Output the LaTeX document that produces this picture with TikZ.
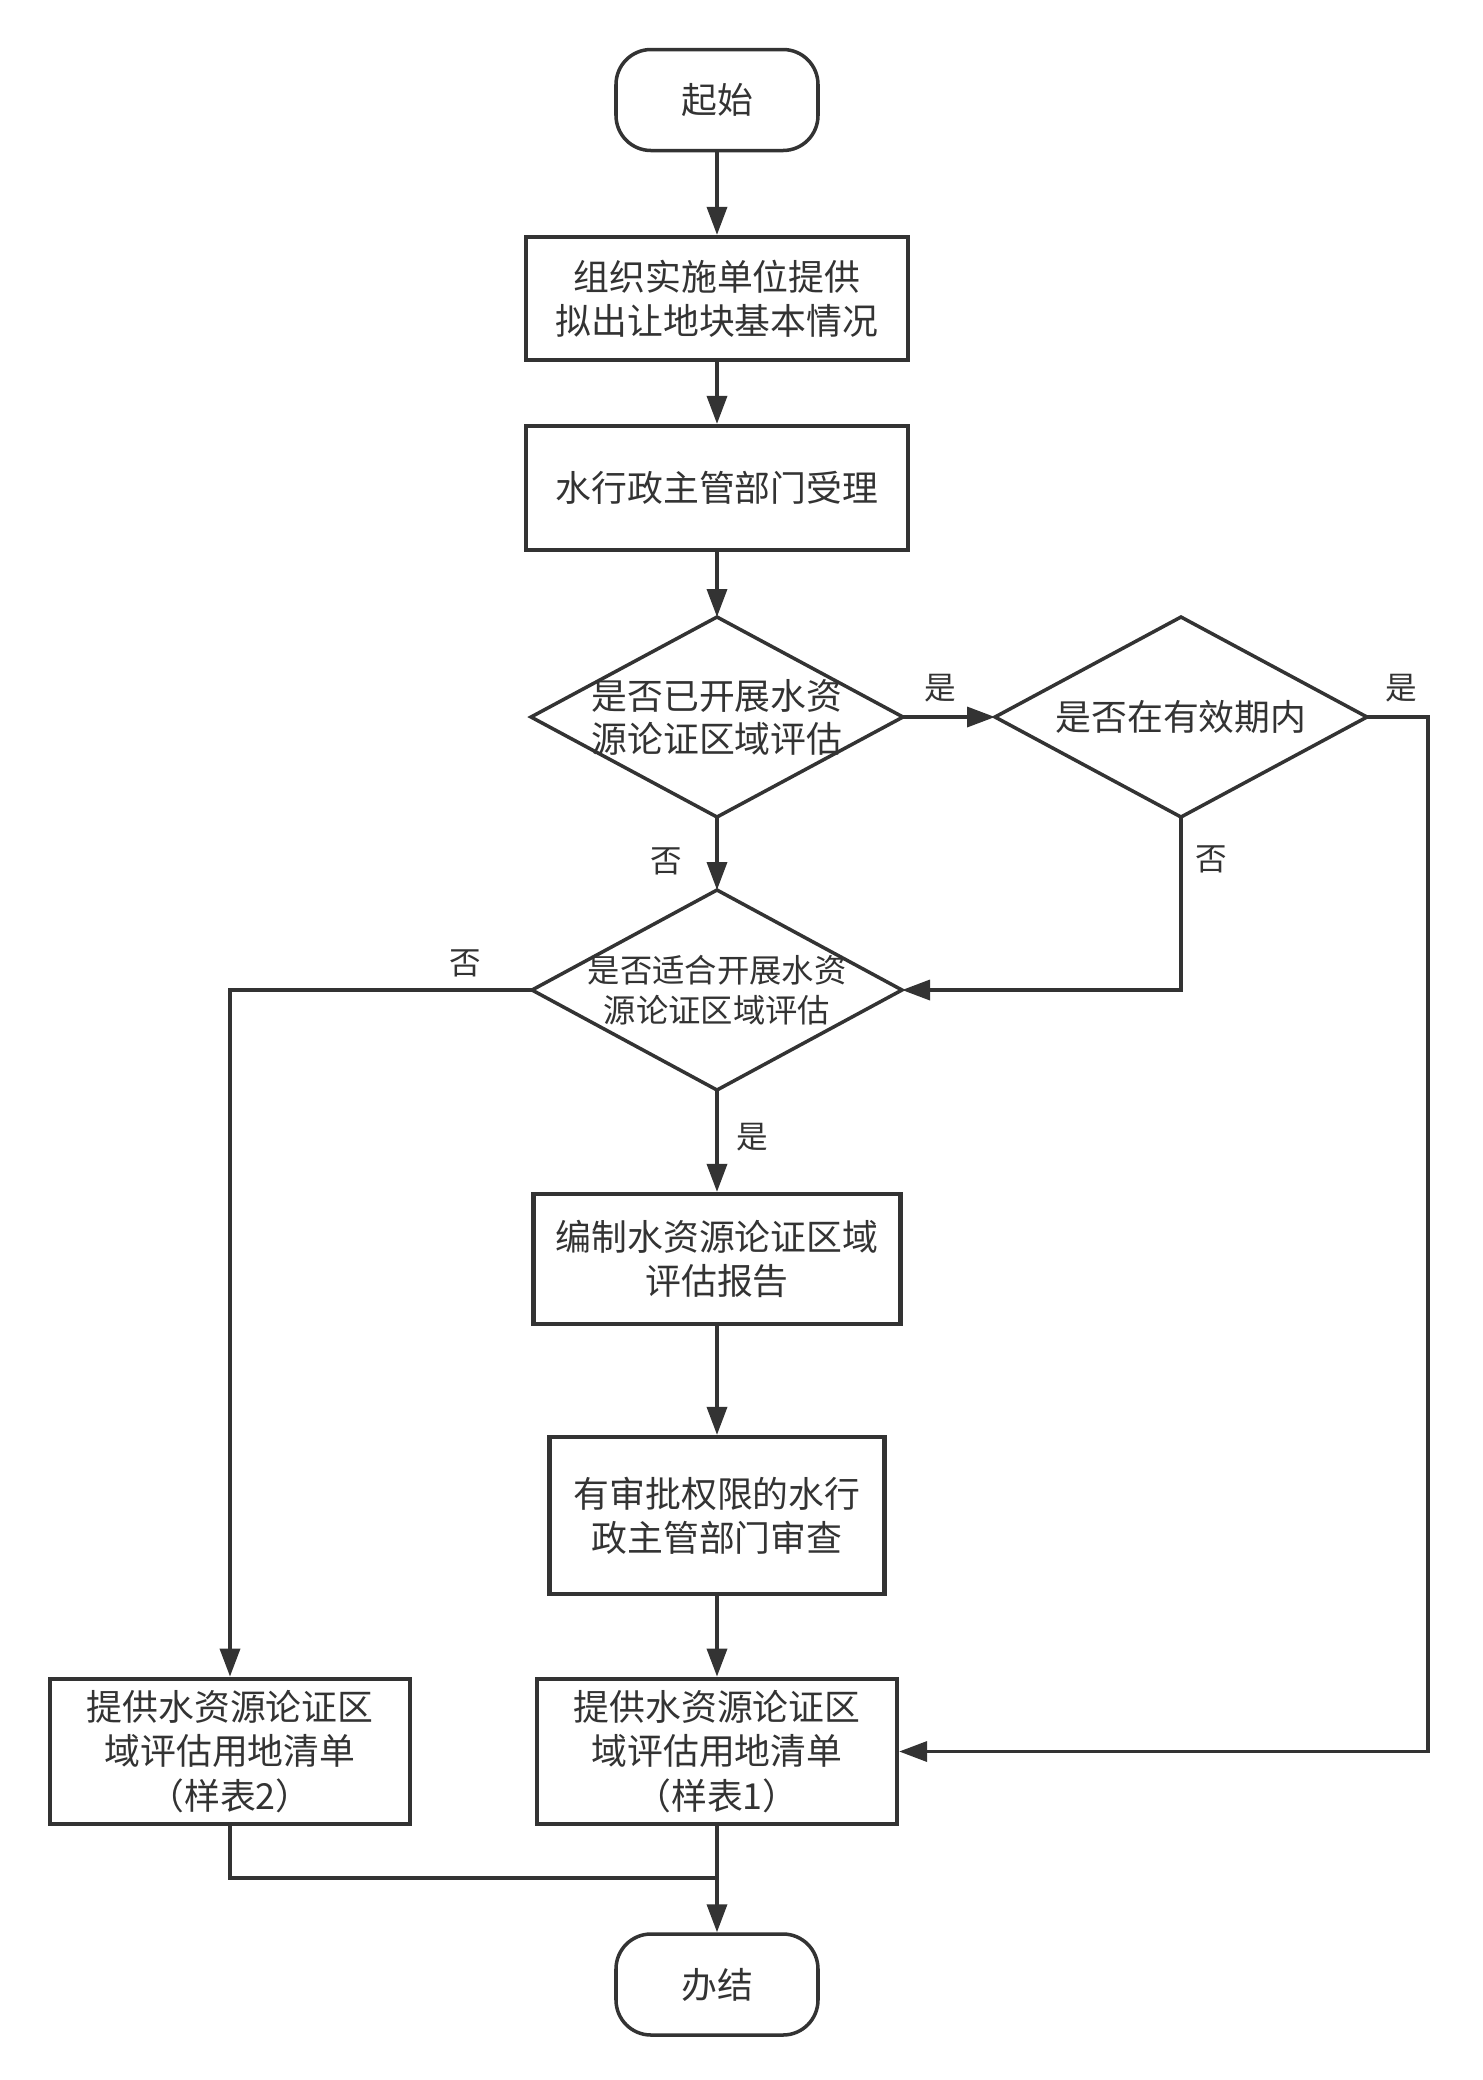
\documentclass[tikz,border=0pt]{standalone}
\usepackage{fontspec}
\setmainfont{Noto Sans CJK SC}
\usetikzlibrary{shapes.geometric,arrows.meta}
\definecolor{ink}{HTML}{333333}

\begin{document}
\begin{tikzpicture}[
	color=ink,
	line width=1pt,
	terminal/.style={draw, rounded corners=0.35cm, minimum width=2.02cm, minimum height=1.01cm, font=\fontsize{10.2pt}{12.6pt}\selectfont},
	stepbox/.style={draw, rectangle, align=center, line width=1.2pt, font=\fontsize{10.2pt}{12.6pt}\selectfont},
	decision/.style={draw, diamond, minimum width=3.72cm, minimum height=2cm, inner sep=0pt, outer sep=0pt},
	flow/.style={-{Triangle[length=2.8mm,width=2mm]}},
	tag/.style={font=\fontsize{9pt}{11pt}\selectfont}
]
	\useasboundingbox (0,0) rectangle (14.83,-20.80);

	\node[terminal] (start) at (7.17,-1.00) {起始};
	\node[stepbox, minimum width=3.82cm, minimum height=1.23cm] (provide) at (7.17,-2.985) {组织实施单位提供\\拟出让地块基本情况};
	\node[stepbox, minimum width=3.82cm, minimum height=1.24cm] (accept) at (7.17,-4.88) {水行政主管部门受理};
	\node[decision, label={[align=center, font=\fontsize{10.2pt}{12.2pt}\selectfont]center:是否已开展水资\\源论证区域评估}] (done) at (7.17,-7.17) {};
	\node[decision, label={[font=\fontsize{10.2pt}{12.2pt}\selectfont]center:是否在有效期内}] (valid) at (11.81,-7.17) {};
	\node[decision, minimum width=3.70cm, label={[align=center, font=\fontsize{9.2pt}{11.4pt}\selectfont]center:是否适合开展水资\\源论证区域评估}] (fit) at (7.17,-9.90) {};
	\node[stepbox, minimum width=3.67cm, minimum height=1.30cm] (report) at (7.17,-12.59) {编制水资源论证区域\\评估报告};
	\node[stepbox, minimum width=3.35cm, minimum height=1.57cm] (review) at (7.17,-15.155) {有审批权限的水行\\政主管部门审查};
	\node[stepbox, minimum width=3.60cm, minimum height=1.43cm] (listtwo) at (2.30,-17.515) {提供水资源论证区\\域评估用地清单\\（样表2）};
	\node[stepbox, minimum width=3.60cm, minimum height=1.43cm] (listone) at (7.17,-17.515) {提供水资源论证区\\域评估用地清单\\（样表1）};
	\node[terminal] (finish) at (7.17,-19.845) {办结};

	\coordinate (rail) at (14.28,-7.17);
	\coordinate (merge) at (7.17,-18.78);

	\draw[flow] (start) -- (provide);
	\draw[flow] (provide) -- (accept);
	\draw[flow] (accept) -- (done);
	\draw[flow] (done.east) -- (valid.west);
	\draw[flow] (valid.east) -- (rail) |- (listone.east);
	\draw[flow] (done.south) -- (fit.north);
	\draw[flow] (valid.south) |- (fit.east);
	\draw[flow] (fit.west) -| (listtwo.north);
	\draw[flow] (fit.south) -- (report.north);
	\draw[flow] (report) -- (review);
	\draw[flow] (review) -- (listone);
	\draw (listtwo.south) |- (merge);
	\draw[flow] (listone.south) -- (finish.north);

	\node[tag] (yesa) at (9.40,-6.88) {是};
	\node[tag] (yesb) at (14.01,-6.88) {是};
	\node[tag] (noa) at (6.66,-8.61) {否};
	\node[tag] (nob) at (12.11,-8.59) {否};
	\node[tag] (noc) at (4.65,-9.63) {否};
	\node[tag] (yesc) at (7.52,-11.37) {是};
\end{tikzpicture}
\end{document}
